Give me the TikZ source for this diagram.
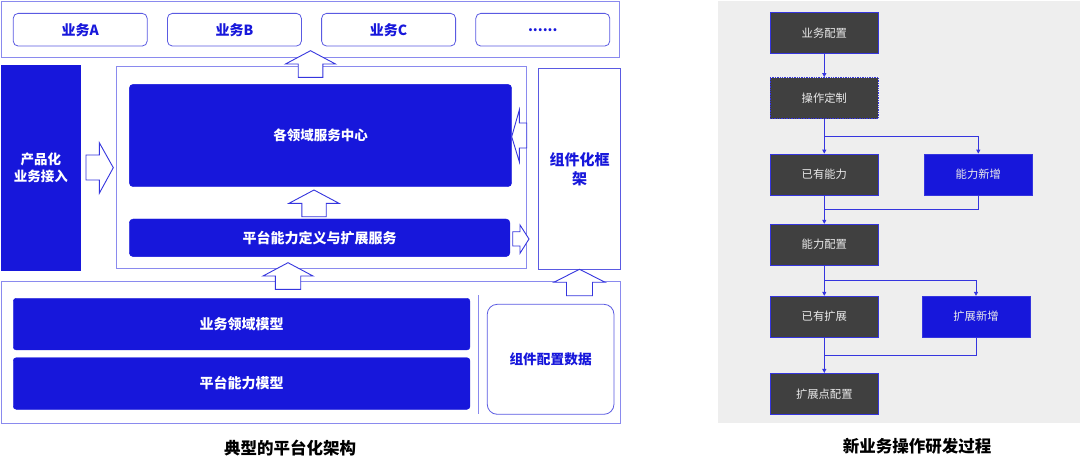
\documentclass[tikz,border=0pt]{standalone}
\usepackage{fontspec}
\setmainfont{Noto Sans CJK SC}
\usetikzlibrary{arrows.meta}
\definecolor{mblue}{HTML}{1717DB}
\definecolor{aline}{HTML}{3535DE}
\definecolor{lframe}{HTML}{8A8AEE}
\definecolor{bframe}{HTML}{5A5AE2}
\definecolor{dgray}{HTML}{404040}
\definecolor{bggray}{HTML}{EEEEEE}
\definecolor{ltext}{HTML}{EAEAEA}
\newcommand{\blockup}[6]{\draw[barrow] (#1,#2) -- ({#1+#3},#4) -- ({#1+#5},#4) -- ({#1+#5},#6) -- ({#1-#5},#6) -- ({#1-#5},#4) -- ({#1-#3},#4) -- cycle;}
\begin{document}
\begin{tikzpicture}[x=1pt,y=-1pt,
  frame/.style={draw=lframe,line width=0.9pt,inner sep=0pt},
  bizbox/.style={draw=bframe,line width=0.8pt,rounded corners=5pt,fill=white,inner sep=0pt,minimum width=134pt,minimum height=32.7pt,text=mblue,font=\bfseries\fontsize{14}{17}\selectfont},
  bluebox/.style={fill=mblue,draw=mblue,rounded corners=4pt,inner sep=0pt,text=white,font=\bfseries\fontsize{13.5}{17}\selectfont},
  barrow/.style={draw=aline,fill=white,line width=0.9pt,line join=miter},
  flowbox/.style={fill=dgray,draw=aline,line width=0.7pt,inner sep=0pt,minimum width=108pt,minimum height=41pt,text=ltext,font=\fontsize{11.3}{13}\selectfont},
  newbox/.style={fill=mblue,draw=aline,line width=0.7pt,inner sep=0pt,minimum width=108pt,minimum height=41pt,text=ltext,font=\fontsize{11.3}{13}\selectfont},
  flowline/.style={draw=aline,line width=0.9pt},
  flowarr/.style={flowline,-{Triangle[length=4pt,width=4pt]}},
  title/.style={text=black,font=\bfseries\fontsize{16.5}{20}\selectfont}
]
\useasboundingbox (0,0) rectangle (1080,469);
\fill[white] (0,0) rectangle (1080,469);

% ---------- left diagram ----------
\node[frame,minimum width=618pt,minimum height=56.3pt] (topbox) at (310.5,29.2) {};
\node[bizbox] (bizA) at (80.2,29.7) {业务A};
\node[bizbox] (bizB) at (234.4,29.7) {业务B};
\node[bizbox] (bizC) at (388.6,29.7) {业务C};
\node[bizbox] (bizD) at (542.8,29.7) {......};

\node[fill=mblue,inner sep=0pt,minimum width=79.7pt,minimum height=205.7pt,text=white,align=center,font=\bfseries\fontsize{13.5}{17.7}\selectfont] (access) at (40.8,167.8) {产品化\\业务接入};

\node[frame,minimum width=410.7pt,minimum height=201.6pt] (center) at (321.3,167.5) {};
\node[bluebox,minimum width=382.4pt,minimum height=102.4pt] (domain) at (320.5,135.5) {各领域服务中心};
\node[bluebox,minimum width=380.7pt,minimum height=37.7pt,font=\bfseries\fontsize{14}{17}\selectfont] (ability) at (319.6,237.8) {平台能力定义与扩展服务};

\node[draw=bframe,line width=0.9pt,inner sep=0pt,minimum width=82.4pt,minimum height=201pt,text=mblue,align=center,font=\bfseries\fontsize{15}{19}\selectfont] (comp) at (579.5,168.8) {组件化框\\架};

\node[frame,minimum width=618.8pt,minimum height=141.6pt] (bottom) at (310.6,352.5) {};
\node[bluebox,rounded corners=3pt,minimum width=456.7pt,minimum height=51.7pt,font=\bfseries\fontsize{14}{17}\selectfont] (bizmodel) at (241.6,324.1) {业务领域模型};
\node[bluebox,rounded corners=3pt,minimum width=456.7pt,minimum height=51.6pt,font=\bfseries\fontsize{14}{17}\selectfont] (abmodel) at (241.6,383.5) {平台能力模型};
\coordinate (sepT) at (478,295);
\coordinate (sepB) at (478,414.3);
\draw[draw=lframe,line width=0.8pt] (sepT) -- (sepB);
\node[draw=bframe,line width=0.8pt,rounded corners=10pt,inner sep=0pt,minimum width=126.7pt,minimum height=110pt,text=mblue,font=\bfseries\fontsize{13.7}{17}\selectfont] (cfgdata) at (550.6,359.3) {组件配置数据};

% block arrows
\blockup{310.5}{50.7}{25}{64}{12.3}{77.3}
\blockup{314}{190}{25}{203.3}{12.2}{216.7}
\blockup{288}{262.7}{25}{276}{12.7}{289.3}
\blockup{579.5}{269.3}{25.5}{282.2}{13}{295.7}
% right arrow: access -> center
\draw[barrow] (113.3,167.7) -- (99.3,142.7) -- (99.3,155) -- (86,155) -- (86,180) -- (99.3,180) -- (99.3,193.3) -- cycle;
% left arrow: comp -> domain
\draw[barrow] (511.7,136.7) -- (519.3,110) -- (519.3,123) -- (526.7,123) -- (526.7,148) -- (519.3,148) -- (519.3,161.7) -- cycle;
% right arrow: ability -> edge
\draw[barrow] (529,239) -- (520,225) -- (520,231.7) -- (512.7,231.7) -- (512.7,246) -- (520,246) -- (520,253.3) -- cycle;

\node[title] (ltitle) at (290,448.3) {典型的平台化架构};

% ---------- right diagram ----------
\fill[bggray] (717.7,1) rectangle (1080,422.7);
\node[flowbox] (b1) at (824.3,33) {业务配置};
\node[flowbox,densely dotted] (b2) at (824.3,98) {操作定制};
\node[flowbox] (b3) at (824.3,174.5) {已有能力};
\node[newbox] (b4) at (978.3,174.5) {能力新增};
\node[flowbox] (b5) at (824.3,244.7) {能力配置};
\node[flowbox] (b6) at (824.3,316.7) {已有扩展};
\node[newbox] (b7) at (976,316.7) {扩展新增};
\node[flowbox] (b8) at (824.3,393.8) {扩展点配置};

\coordinate (j1) at (824.3,136);
\coordinate (j2) at (824.3,209.3);
\coordinate (j3) at (824.3,280.7);
\coordinate (j4) at (824.3,355.3);

\draw[flowarr] (b1.south) -- (b2.north);
\draw[flowline] (b2.south) -- (j1);
\draw[flowarr] (j1) -- (b3.north);
\draw[flowarr] (j1) -| (b4.north);
\draw[flowarr] (b3.south) -- (b5.north);
\draw[flowline] (b4.south) |- (j2);
\draw[flowline] (b5.south) -- (j3);
\draw[flowarr] (j3) -- (b6.north);
\draw[flowarr] (j3) -| (b7.north);
\draw[flowarr] (b6.south) -- (b8.north);
\draw[flowline] (b7.south) |- (j4);

\node[title] (rtitle) at (917,446.7) {新业务操作研发过程};
\end{tikzpicture}
\end{document}
